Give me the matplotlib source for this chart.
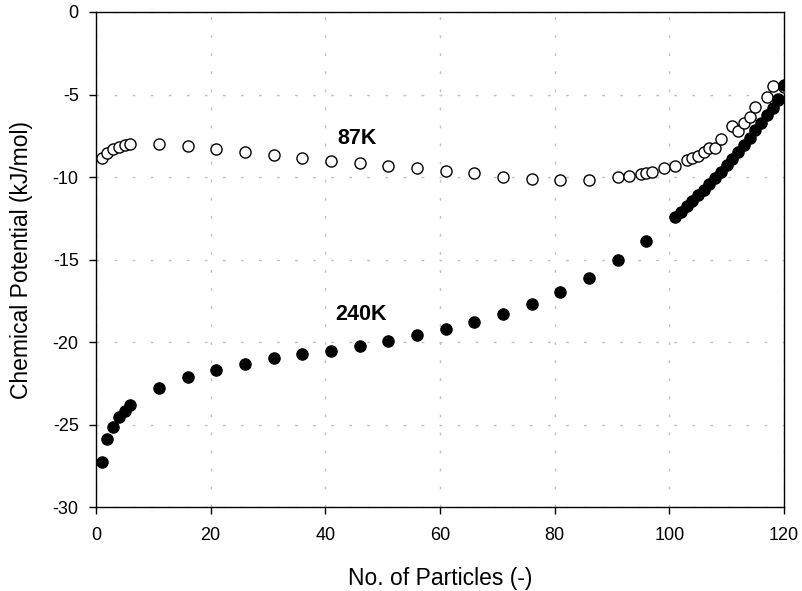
import matplotlib
matplotlib.use('Agg')
import matplotlib.pyplot as plt

plt.rcParams['font.family'] = ['Liberation Sans', 'DejaVu Sans']
plt.rcParams['axes.unicode_minus'] = False

# ------------ 87K (open circles)
n_87 = [1, 2, 3, 4, 5, 6, 11, 16, 21, 26, 31, 36, 41, 46, 51, 56, 61, 66, 71, 76,
        81, 86, 91, 93, 95, 96, 97, 99, 101, 103, 104, 105, 106, 107, 108, 109,
        111, 112, 113, 114, 115, 117, 118, 119, 120]
mu_87 = [-8.87, -8.56, -8.32, -8.16, -8.06, -8.00, -8.00, -8.10, -8.30, -8.50,
         -8.67, -8.83, -9.01, -9.13, -9.32, -9.47, -9.62, -9.78, -9.98, -10.12,
         -10.18, -10.18, -10.02, -9.92, -9.82, -9.74, -9.68, -9.44, -9.33, -8.97,
         -8.87, -8.73, -8.47, -8.26, -8.26, -7.70, -6.89, -7.19, -6.71, -6.34,
         -5.74, -5.17, -4.48, -5.33, -4.55]

# ------------ 240K (filled circles)
n_240 = [1, 2, 3, 4, 5, 6, 11, 16, 21, 26, 31, 36, 41, 46, 51, 56, 61, 66, 71, 76,
         81, 86, 91, 96, 101, 102, 103, 104, 105, 106, 107, 108, 109, 110, 111,
         112, 113, 114, 115, 116, 117, 118, 119, 120]
mu_240 = [-27.25, -25.90, -25.13, -24.56, -24.16, -23.84, -22.77, -22.14, -21.70,
          -21.33, -20.99, -20.73, -20.53, -20.22, -19.94, -19.60, -19.23, -18.79,
          -18.28, -17.68, -16.97, -16.10, -15.05, -13.85, -12.40, -12.10, -11.78,
          -11.45, -11.12, -10.78, -10.42, -10.05, -9.67, -9.28, -8.88, -8.47,
          -8.05, -7.62, -7.18, -6.73, -6.27, -5.80, -5.25, -4.40]

fig = plt.figure(figsize=(8.02, 5.91), dpi=100)
ax = fig.add_axes([0.1197, 0.1421, 0.8579, 0.8376])

ax.plot(n_87, mu_87, 'o', ms=8.0, mfc='white', mec='black', mew=1.0, zorder=3)
ax.plot(n_240, mu_240, 'o', ms=8.2, mfc='black', mec='black', mew=0.8, zorder=4)

ax.text(45.5, -7.68, '87K', fontsize=15.5, fontweight='bold', ha='center', va='center')
ax.text(46.2, -18.35, '240K', fontsize=15.5, fontweight='bold', ha='center', va='center')

ax.set_xlim(0, 120)
ax.set_ylim(-30, 0)
ax.set_xticks(range(0, 121, 20))
ax.set_yticks(range(-30, 1, 5))

ax.grid(True, color='#c0c0c0', linestyle=(0, (2, 11)), linewidth=1.0)
ax.set_axisbelow(True)
ax.tick_params(direction='out', length=5, width=1, labelsize=13, top=False, right=False)
ax.tick_params(axis='x', pad=9.5)
ax.tick_params(axis='y', pad=7.5)
for s in ax.spines.values():
    s.set_linewidth(1.0)

ax.set_xlabel('No. of Particles (-)', fontsize=16.5)
ax.set_ylabel('Chemical Potential (kJ/mol)', fontsize=16.5)
ax.xaxis.set_label_coords(0.5, -0.121)
ax.yaxis.set_label_coords(-0.091, 0.5)

fig.savefig('out.png', dpi=100)
